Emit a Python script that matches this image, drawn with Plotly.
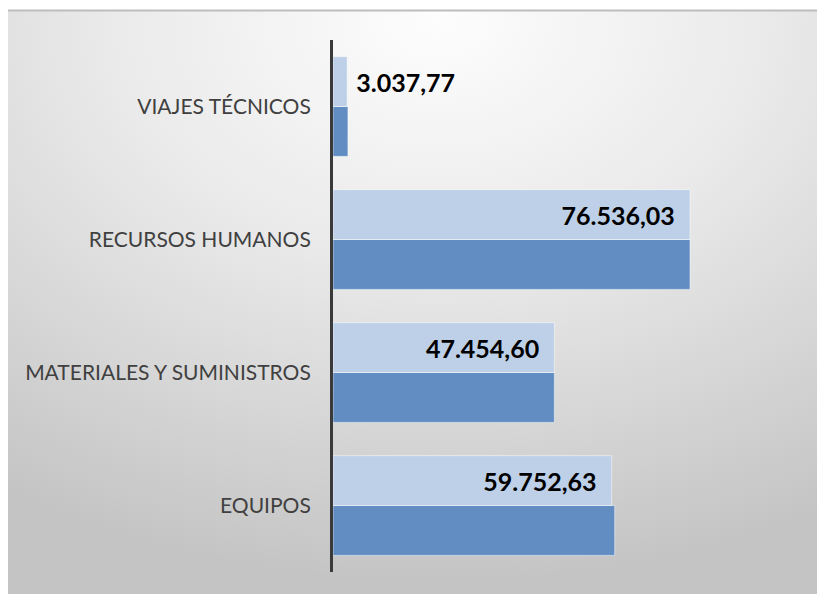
import base64
import plotly.graph_objects as go

categories = ["EQUIPOS", "MATERIALES Y SUMINISTROS", "RECURSOS HUMANOS", "VIAJES TÉCNICOS"]
series_light = [59752.63, 47454.60, 76536.03, 3037.77]
series_dark = [60400.00, 47454.60, 76536.03, 3200.00]
label_templates = [
    "%{x:,.2f}\u00a0\u00a0",
    "%{x:,.2f}\u00a0\u00a0",
    "%{x:,.2f}\u00a0\u00a0",
    "\u00a0%{x:,.2f}",
]
label_positions = ["inside", "inside", "inside", "outside"]

W, H = 825, 594
L, R, T, B = 325, 43, 32, 30
pw, ph = W - L - R, H - T - B

def px_to_paper_x(px):
    return (px - L) / pw

def py_to_paper_y(py):
    return (H - B - py) / ph

svg = """<svg xmlns='http://www.w3.org/2000/svg' width='800' height='600' viewBox='0 0 800 600' preserveAspectRatio='none'>
<defs><radialGradient id='g' cx='0.52' cy='0.02' r='0.95' gradientUnits='objectBoundingBox'>
<stop offset='0' stop-color='#fdfdfd'/><stop offset='0.42' stop-color='#eaeaea'/><stop offset='1' stop-color='#c4c4c4'/>
</radialGradient></defs><rect width='800' height='600' fill='url(#g)'/></svg>"""
bg_uri = "data:image/svg+xml;base64," + base64.b64encode(svg.encode()).decode()

fig = go.Figure()
fig.add_trace(go.Bar(
    y=categories, x=series_dark, orientation="h",
    marker=dict(color="#618dc3", line=dict(color="rgba(255,255,255,0.5)", width=1)),
    hoverinfo="skip",
))
fig.add_trace(go.Bar(
    y=categories, x=series_light, orientation="h",
    marker=dict(color="#bdd0e7", line=dict(color="rgba(255,255,255,0.5)", width=1)),
    texttemplate=label_templates, textposition=label_positions,
    insidetextanchor="end", constraintext="none", cliponaxis=False,
    textfont=dict(family="Lato", size=25, color="#000000", weight="bold"),
    hoverinfo="skip",
))

x0 = px_to_paper_x(0)
x1 = px_to_paper_x(W)
y0 = py_to_paper_y(2)
y1 = py_to_paper_y(H)

fig.update_layout(
    width=W, height=H,
    margin=dict(l=L, r=R, t=T, b=B),
    paper_bgcolor="#ffffff",
    plot_bgcolor="rgba(0,0,0,0)",
    separators=",.",
    barmode="group", bargap=0.25, bargroupgap=0,
    showlegend=False,
    images=[dict(source=bg_uri, xref="paper", yref="paper", x=x0, y=y0,
                 sizex=x1 - x0, sizey=y0 - y1, xanchor="left", yanchor="top",
                 sizing="stretch", layer="below")],
    shapes=[
        dict(type="line", xref="paper", yref="paper", x0=x0, x1=x1, y0=py_to_paper_y(2.5),
             y1=py_to_paper_y(2.5), line=dict(color="#bdbdbd", width=2), layer="below"),
    ],
    xaxis=dict(visible=False, range=[0, 97975], fixedrange=True),
    yaxis=dict(
        categoryorder="array", categoryarray=categories,
        showline=True, linecolor="#3a3a3a", linewidth=3,
        ticks="outside", ticklen=15, tickcolor="rgba(0,0,0,0)",
        showgrid=False, zeroline=False,
        tickfont=dict(family="Lato", size=21, color="#404040"),
    ),
)

fig.write_html("out.html")
